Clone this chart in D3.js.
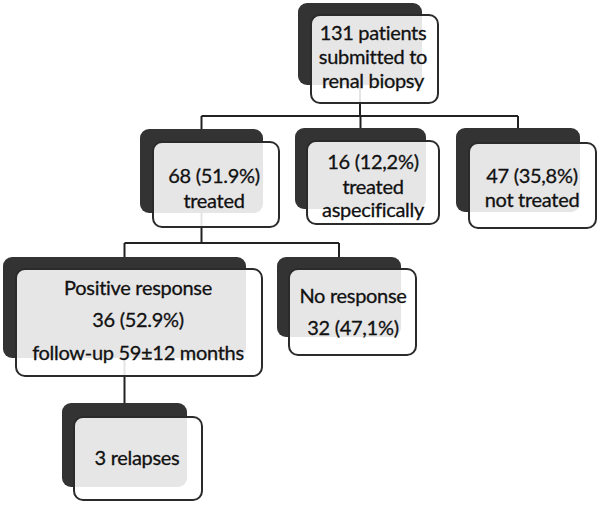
<!DOCTYPE html>
<html>
<head>
<meta charset="utf-8">
<script src="https://cdn.jsdelivr.net/npm/d3@7"></script>
<style>
    body { margin: 0; background: #fff; }
    .back { fill: #333; }
    .front { fill: #fff; fill-opacity: 0.88; stroke: #2b2b2b; stroke-width: 2; }
    .link { fill: none; stroke: #222; stroke-width: 2; }
    .label { font-family: Lato, "Open Sans", sans-serif; font-size: 20px; letter-spacing: -0.3px;
             fill: #111; stroke: #111; stroke-width: 0.3; text-anchor: middle; }
</style>
</head>
<body>
<script>
// flowchart content
var nodeIds = ['root', 'treated', 'aspec', 'notTreated', 'positive', 'noResponse', 'relapses'];
var nodeParents = [null, 'root', 'root', 'root', 'treated', 'treated', 'positive'];
var nodeLabels = [
    ['131 patients', 'submitted to', 'renal biopsy'],
    ['68 (51.9%)', 'treated'],
    ['16 (12,2%)', 'treated', 'aspecifically'],
    ['47 (35,8%)', 'not treated'],
    ['Positive response', '36 (52.9%)', 'follow-up 59\u00b112 months'],
    ['No response', '32 (47,1%)'],
    ['3 relapses']
];

// layout: back box [x, y, w, h], front box [x, y, w, h], text centre x and baselines
var layout = {
    root:       { back: [298, 3, 124, 82],   front: [311, 15, 127, 88],  tx: 373, ty: [40, 64, 88] },
    treated:    { back: [140, 129, 123, 84], front: [153, 142, 126, 85], tx: 214, ty: [183, 208] },
    aspec:      { back: [295, 128, 131, 81], front: [307, 141, 132, 83], tx: 373, ty: [169, 194, 217] },
    notTreated: { back: [456, 128, 124, 84], front: [469, 143, 127, 85], tx: 532, ty: [183, 207] },
    positive:   { back: [3, 257, 243, 101],  front: [16, 269, 246, 107], tx: 138, ty: [295, 327, 360] },
    noResponse: { back: [277, 257, 124, 80], front: [289, 269, 127, 86], tx: 353, ty: [303, 335] },
    relapses:   { back: [62, 403, 125, 84],  front: [74, 417, 128, 83],  tx: 137, ty: [465] }
};
var busY = { root: 116, treated: 243 };

var width = 600, height = 507;

var svg = d3.select('body').append('svg')
    .attr('width', width)
    .attr('height', height);

var nodes = nodeIds.map(function (id, i) {
    return { id: id, parent: nodeParents[i], lines: nodeLabels[i] };
});
var root = d3.stratify()
    .id(d => d.id)
    .parentId(d => d.parent)(nodes);

function centreX(id) {
    return layout[id].back[0] + layout[id].back[2] / 2;
}

var backLayer = svg.append('g'),
    links = svg.append('g'),
    frontLayer = svg.append('g'),
    textLayer = svg.append('g');

// connectors: down from parent's box, across, down to each child's back box.
// They sit under the translucent front boxes so they show through faintly.
root.each(function (node) {
    if (!node.children) return;
    var p = layout[node.id];
    var px = centreX(node.id);
    var pBottom = p.front[1] + p.front[3];
    var xs = node.children.map(c => centreX(c.id));
    var y = node.children.length > 1 ? busY[node.id] : layout[node.children[0].id].back[1];
    links.append('path').attr('class', 'link')
        .attr('d', d3.line()([[px, pBottom - 30], [px, y]]));
    if (node.children.length > 1) {
        links.append('path').attr('class', 'link')
            .attr('d', d3.line()([[d3.min(xs), y], [d3.max(xs), y]]));
        node.children.forEach(function (c, i) {
            links.append('path').attr('class', 'link')
                .attr('d', d3.line()([[xs[i], y], [xs[i], layout[c.id].back[1]]]));
        });
    }
});

var all = root.descendants();

backLayer.selectAll('rect')
    .data(all)
    .enter().append('rect')
    .attr('class', 'back')
    .attr('x', d => layout[d.id].back[0])
    .attr('y', d => layout[d.id].back[1])
    .attr('width', d => layout[d.id].back[2])
    .attr('height', d => layout[d.id].back[3])
    .attr('rx', 9);

frontLayer.selectAll('rect')
    .data(all)
    .enter().append('rect')
    .attr('class', 'front')
    .attr('x', d => layout[d.id].front[0])
    .attr('y', d => layout[d.id].front[1])
    .attr('width', d => layout[d.id].front[2])
    .attr('height', d => layout[d.id].front[3])
    .attr('rx', 9);

all.forEach(function (d) {
    d.data.lines.forEach(function (line, i) {
        textLayer.append('text').attr('class', 'label')
            .attr('x', layout[d.id].tx)
            .attr('y', layout[d.id].ty[i])
            .text(line);
    });
});
</script>
</body>
</html>
